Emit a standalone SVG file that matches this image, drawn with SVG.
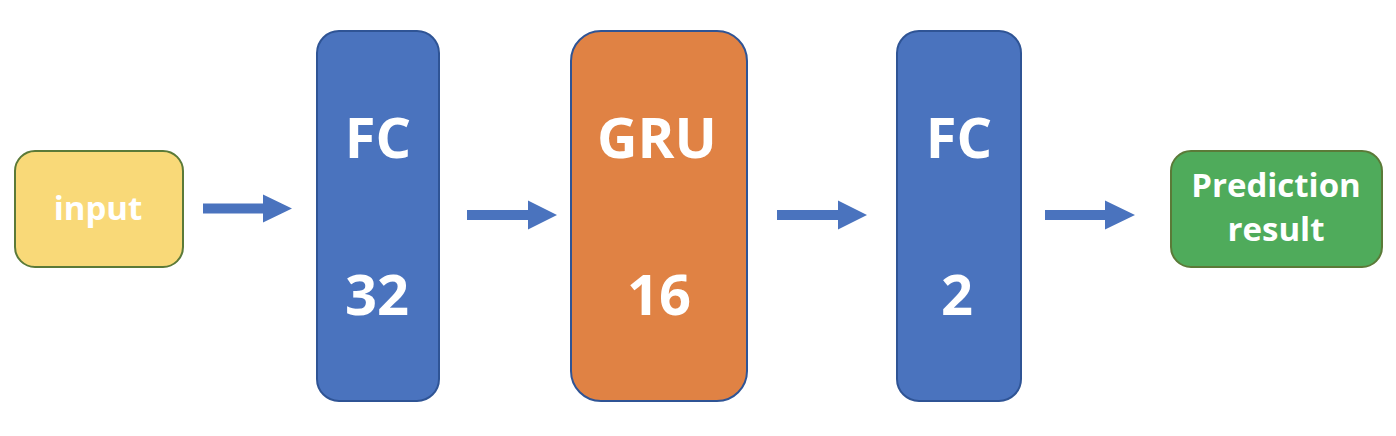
<svg xmlns="http://www.w3.org/2000/svg" width="1396" height="436" viewBox="0 0 1396 436">
<style>
text{font-family:"Open Sans","Noto Sans","Liberation Sans",sans-serif;font-weight:700;fill:#fff;text-anchor:middle}
.big{font-size:56px}
.small{font-size:33px}
.blue{fill:#4A73BE;stroke:#2F5495;stroke-width:2}
.orange{fill:#E08244;stroke:#2F5495;stroke-width:2}
.yellow{fill:#F9D978;stroke:#5B7A38;stroke-width:2}
.green{fill:#4FAB5B;stroke:#5B7A38;stroke-width:2}
.arrow{fill:#4A73BE}
</style>
<rect width="1396" height="436" fill="#fff"/>
<g id="input">
<rect class="yellow" x="15" y="151" width="168" height="116" rx="20"/>
<text class="small" x="98" y="220">input</text>
</g>
<g id="fc32">
<rect class="blue" x="317" y="31" width="122" height="370" rx="22"/>
<text class="big" x="378" y="158">FC</text>
<text class="big" x="377" y="315">32</text>
</g>
<g id="gru16">
<rect class="orange" x="571" y="31" width="176" height="370" rx="30"/>
<text class="big" x="657" y="158">GRU</text>
<text class="big" x="659" y="315">16</text>
</g>
<g id="fc2">
<rect class="blue" x="897" y="31" width="124" height="370" rx="22"/>
<text class="big" x="959" y="158">FC</text>
<text class="big" x="957" y="315">2</text>
</g>
<g id="prediction">
<rect class="green" x="1171" y="151" width="211" height="116" rx="20"/>
<text class="small" x="1276" y="197">Prediction</text>
<text class="small" x="1276" y="241">result</text>
</g>
<g id="connectors">
<polygon class="arrow" points="203,203.5 263,203.5 263,194.5 292,208.5 263,222.5 263,213.5 203,213.5"/>
<polygon class="arrow" points="467,210 528,210 528,200.5 557,215 528,229.5 528,220 467,220"/>
<polygon class="arrow" points="777,210 838,210 838,200.5 867,215 838,229.5 838,220 777,220"/>
<polygon class="arrow" points="1045,210 1105,210 1105,200.5 1135,215 1105,229.5 1105,220 1045,220"/>
</g>
</svg>
